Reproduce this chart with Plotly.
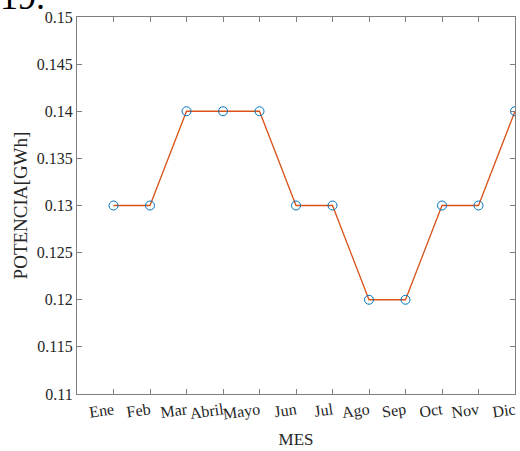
import plotly.graph_objects as go

# Monthly power values
meses = ["Ene", "Feb", "Mar", "Abril", "Mayo", "Jun", "Jul", "Ago", "Sep", "Oct", "Nov", "Dic"]
potencia = [0.13, 0.13, 0.14, 0.14, 0.14, 0.13, 0.13, 0.12, 0.12, 0.13, 0.13, 0.14]
y_ticks = [0.11, 0.115, 0.12, 0.125, 0.13, 0.135, 0.14, 0.145, 0.15]

x_pos = list(range(1, len(meses) + 1))
FONT = "Liberation Serif"
AXIS_COLOR = "#7f7f7f"
TEXT_COLOR = "#262626"

fig = go.Figure()

# Orange connecting line
fig.add_trace(go.Scatter(
    x=x_pos, y=potencia, mode="lines",
    line=dict(color="#D95319", width=1.3),
    showlegend=False, hoverinfo="skip",
))
# Blue open circle markers
fig.add_trace(go.Scatter(
    x=x_pos, y=potencia, mode="markers",
    marker=dict(symbol="circle-open", size=9, color="#0072BD", line=dict(width=1)),
    showlegend=False,
))

axis_common = dict(
    showgrid=False, zeroline=False,
    showline=True, linecolor=AXIS_COLOR, linewidth=1.2, mirror="ticks",
    ticks="inside", ticklen=5, tickcolor=AXIS_COLOR, tickwidth=1,
    tickfont=dict(family=FONT, size=16, color=TEXT_COLOR),
)

fig.update_xaxes(
    range=[0, 12], tickmode="array", tickvals=x_pos, ticktext=meses,
    tickangle=-8, ticklabeloverflow="allow",
    title=dict(text="MES", font=dict(family=FONT, size=17, color=TEXT_COLOR), standoff=10),
    **axis_common,
)
fig.update_yaxes(
    range=[0.11, 0.15], tickmode="array", tickvals=y_ticks,
    ticktext=[f"{v:g}" for v in y_ticks],
    title=dict(text="POTENCIA[GWh]", font=dict(family=FONT, size=19, color=TEXT_COLOR), standoff=4),
    **axis_common,
)

# Partially visible figure number at the top-left corner
fig.add_annotation(
    text="19.", xref="paper", yref="paper", x=0, y=1,
    xanchor="left", yanchor="bottom", xshift=-79, yshift=-2,
    showarrow=False, font=dict(family=FONT, size=36, color="black"),
)

fig.update_layout(
    width=520, height=451,
    margin=dict(l=77, r=3, t=17, b=57),
    paper_bgcolor="white", plot_bgcolor="white",
)

fig.write_html("out.html")
